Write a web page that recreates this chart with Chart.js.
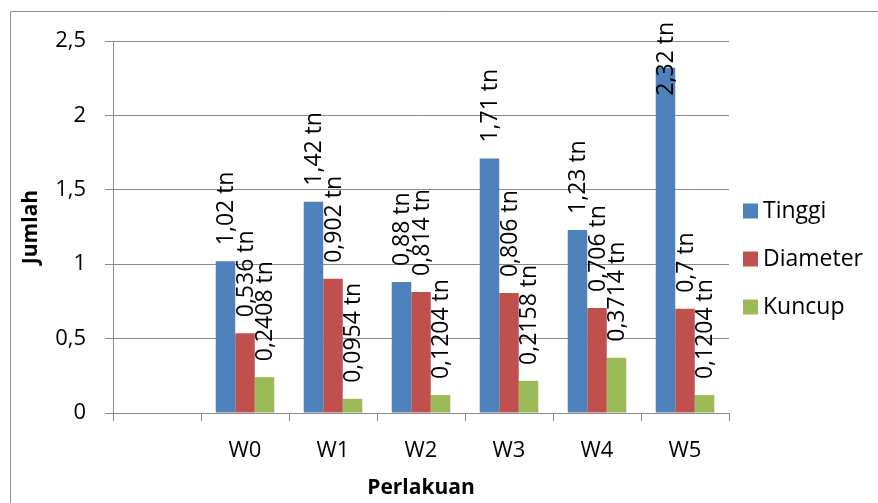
<!DOCTYPE html>
<html>
<head>
<meta charset="utf-8">
<script src="https://cdn.jsdelivr.net/npm/chart.js@4"></script>
<style>
  html, body { margin: 0; padding: 0; background: #ffffff; }
  #wrap { width: 878px; height: 503px; }
</style>
</head>
<body>
<div id="wrap"><canvas id="chart" width="878" height="503"></canvas></div>
<script>
// Treatments (the first slot is an empty category, as in the worksheet)
const categories = ['', 'W0', 'W1', 'W2', 'W3', 'W4', 'W5'];
const seriesNames = ['Tinggi', 'Diameter', 'Kuncup'];
const tinggi   = [null, 1.02, 1.42, 0.88, 1.71, 1.23, 2.32];
const diameter = [null, 0.536, 0.902, 0.814, 0.806, 0.706, 0.7];
const kuncup   = [null, 0.2408, 0.0954, 0.1204, 0.2158, 0.3714, 0.1204];
const yTicks   = [0, 0.5, 1, 1.5, 2, 2.5];

const colors = ['#4F81BD', '#C0504D', '#9BBB59'];
const gridColor = '#8a8a8a';
const FONT = '"Open Sans", "Liberation Sans", sans-serif';

const fmt = v => String(v).replace('.', ',');

// Rotated value labels above each bar ("1,02 tn")
const valueLabels = {
  id: 'valueLabels',
  afterDatasetsDraw(chart) {
    const ctx = chart.ctx;
    ctx.save();
    ctx.font = '23px ' + FONT;
    ctx.fillStyle = '#000000';
    ctx.textAlign = 'left';
    ctx.textBaseline = 'middle';
    chart.data.datasets.forEach((ds, di) => {
      const meta = chart.getDatasetMeta(di);
      meta.data.forEach((bar, i) => {
        const v = ds.data[i];
        if (v === null || v === undefined) return;
        const text = fmt(v) + ' tn';
        const w = ctx.measureText(text).width;
        let start = bar.y - 16;
        const minTop = 22;
        if (start - w < minTop) start = minTop + w;
        ctx.save();
        ctx.translate(bar.x + 1, start);
        ctx.rotate(-Math.PI / 2);
        ctx.fillText(text, 0, 0);
        ctx.restore();
      });
    });
    ctx.restore();
  }
};

// Legend at the right of the plot
const sideLegend = {
  id: 'sideLegend',
  afterDraw(chart) {
    const ctx = chart.ctx;
    const area = chart.chartArea;
    ctx.save();
    ctx.font = '23px ' + FONT;
    ctx.textAlign = 'left';
    ctx.textBaseline = 'middle';
    chart.data.datasets.forEach((ds, i) => {
      const cy = 211 + i * 48;
      const x = area.right + 14;
      ctx.fillStyle = ds.backgroundColor;
      ctx.fillRect(x, cy - 7.5, 15, 15);
      ctx.fillStyle = '#000000';
      ctx.fillText(ds.label, x + 20, cy);
    });
    ctx.restore();
  }
};

// Outer frame of the chart object
const frame = {
  id: 'frame',
  beforeDraw(chart) {
    const ctx = chart.ctx;
    ctx.save();
    ctx.fillStyle = '#ffffff';
    ctx.fillRect(0, 0, chart.width, chart.height);
    ctx.strokeStyle = '#8e8e8e';
    ctx.lineWidth = 1;
    ctx.beginPath();
    ctx.moveTo(10.5, chart.height);
    ctx.lineTo(10.5, 11.5);
    ctx.lineTo(chart.width, 11.5);
    ctx.stroke();
    ctx.restore();
  }
};

new Chart(document.getElementById('chart'), {
  type: 'bar',
  data: {
    labels: categories,
    datasets: [
      { label: seriesNames[0], data: tinggi,   backgroundColor: colors[0] },
      { label: seriesNames[1], data: diameter, backgroundColor: colors[1] },
      { label: seriesNames[2], data: kuncup,   backgroundColor: colors[2] }
    ]
  },
  options: {
    responsive: false,
    animation: false,
    devicePixelRatio: 1,
    layout: { padding: { left: 0, right: 149, top: 41, bottom: 0 } },
    datasets: { bar: { categoryPercentage: 0.665, barPercentage: 1, borderWidth: 0 } },
    plugins: {
      legend: { display: false },
      tooltip: { enabled: false }
    },
    scales: {
      x: {
        type: 'category',
        offset: true,
        grid: { offset: true, drawOnChartArea: false, drawTicks: true, tickLength: 8, color: gridColor },
        border: { display: true, color: gridColor },
        ticks: { color: '#000000', font: { family: FONT, size: 22 }, padding: 17, maxRotation: 0, autoSkip: false },
        title: {
          display: true, text: 'Perlakuan', color: '#000000',
          font: { family: FONT, size: 21, weight: 'bold' },
          padding: { top: 0, bottom: 2 }
        },
        afterFit(scale) { scale.height = 90; }
      },
      y: {
        min: yTicks[0],
        max: yTicks[yTicks.length - 1],
        afterBuildTicks(scale) { scale.ticks = yTicks.map(v => ({ value: v })); },
        grid: { color: gridColor, drawTicks: true, tickLength: 8 },
        border: { display: true, color: gridColor },
        ticks: {
          color: '#000000', font: { family: FONT, size: 22 }, padding: 19,
          callback: v => fmt(v)
        },
        title: {
          display: true, text: 'Jumlah', color: '#000000',
          font: { family: FONT, size: 21, weight: 'bold' },
          padding: { top: 18, bottom: 0 }
        },
        afterFit(scale) { scale.width = 113; }
      }
    }
  },
  plugins: [frame, valueLabels, sideLegend]
});
</script>
</body>
</html>
